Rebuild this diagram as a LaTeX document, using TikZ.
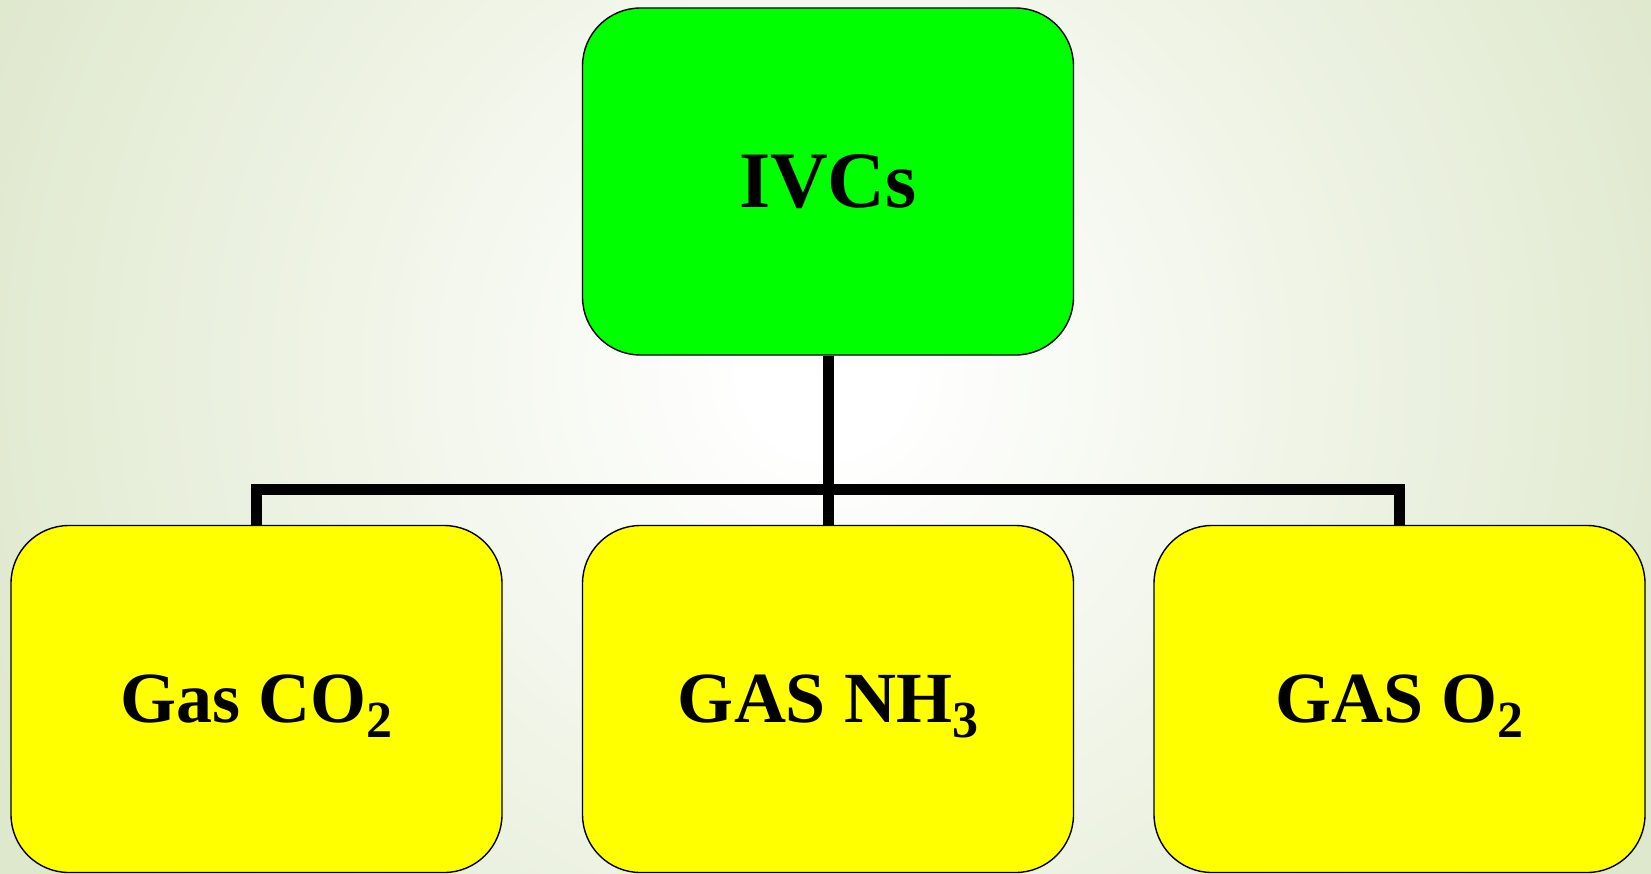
\documentclass[tikz,border=0pt]{standalone}
\usepackage{fontspec}
\setmainfont{Liberation Serif}
\definecolor{bgedge}{RGB}{222,232,204}
\definecolor{ivcgreen}{RGB}{0,255,0}
\definecolor{gasyellow}{RGB}{255,255,0}
\pgfdeclareradialshading{bgglow}{\pgfpoint{0bp}{0bp}}{color(0bp)=(white); color(2bp)=(white); color(25bp)=(bgedge); color(50bp)=(bgedge)}
\newcommand{\lowsub}[1]{\raisebox{-15pt}[0pt][0pt]{\fontsize{52}{60}\selectfont #1}}
\begin{document}
\begin{tikzpicture}[x=1pt,y=-1pt,
  box/.style={draw,line width=1.4pt,rounded corners=58pt,minimum width=491pt,minimum height=347pt,inner sep=0pt,font=\fontsize{72}{86}\selectfont\bfseries},
  bar/.style={line width=11pt}]
\useasboundingbox (0,0) rectangle (1651,873);
% background
\begin{scope}
\clip (0,0) rectangle (1651,873);
\shade[shading=bgglow] (-104,-560) rectangle (1756,1300);
\end{scope}
% top
\node[box,fill=ivcgreen,font=\fontsize{80}{96}\selectfont\bfseries] (ivc) at (828,181.5) {IVCs};
% bottom row
\node[box,fill=gasyellow] (co2) at (256.5,699) {Gas CO\lowsub{2}};
\node[box,fill=gasyellow] (nh3) at (828,699) {GAS NH\lowsub{3}};
\node[box,fill=gasyellow] (o2) at (1399.5,699) {GAS O\lowsub{2}};
% connectors
\draw[bar] (ivc.south) -- (nh3.north);
\draw[bar] (co2.north) -- ++(0,-35) -| (o2.north);
\end{tikzpicture}
\end{document}
